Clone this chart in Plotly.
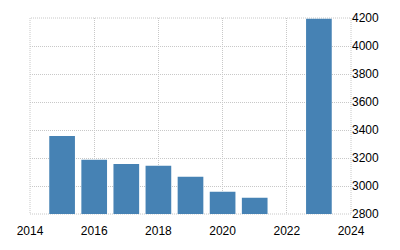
import plotly.graph_objects as go

years = [2015, 2016, 2017, 2018, 2019, 2020, 2021, 2023]
values = [3357, 3187, 3158, 3144, 3066, 2959, 2916, 4195]
x_ticks = [2014, 2016, 2018, 2020, 2022, 2024]
y_ticks = [2800, 3000, 3200, 3400, 3600, 3800, 4000, 4200]

grid = "#c8c8c8"
fig = go.Figure(go.Bar(x=years, y=values, width=0.8, marker_color="#4682B4",
                       marker_line_width=0))
fig.update_layout(
    width=400, height=250,
    margin=dict(l=30, r=49, t=18, b=36),
    paper_bgcolor="white", plot_bgcolor="white",
    showlegend=False,
    font=dict(family="Liberation Sans", size=12, color="#000"),
    shapes=[dict(type="rect", xref="paper", yref="paper", x0=0, x1=1, y0=0, y1=1,
                 line=dict(color=grid, width=1, dash="1px,1px"), layer="below")],
)
fig.update_xaxes(range=[2014, 2024], tickvals=x_ticks, showgrid=True,
                 gridcolor=grid, griddash="1px,1px", gridwidth=1,
                 zeroline=False, showline=False, ticks="", ticklabelstandoff=8)
fig.update_yaxes(range=[2800, 4200], tickvals=y_ticks, side="right",
                 showgrid=True, gridcolor=grid, griddash="1px,1px", gridwidth=1,
                 zeroline=False, showline=False, ticks="")
fig.write_html("out.html")
